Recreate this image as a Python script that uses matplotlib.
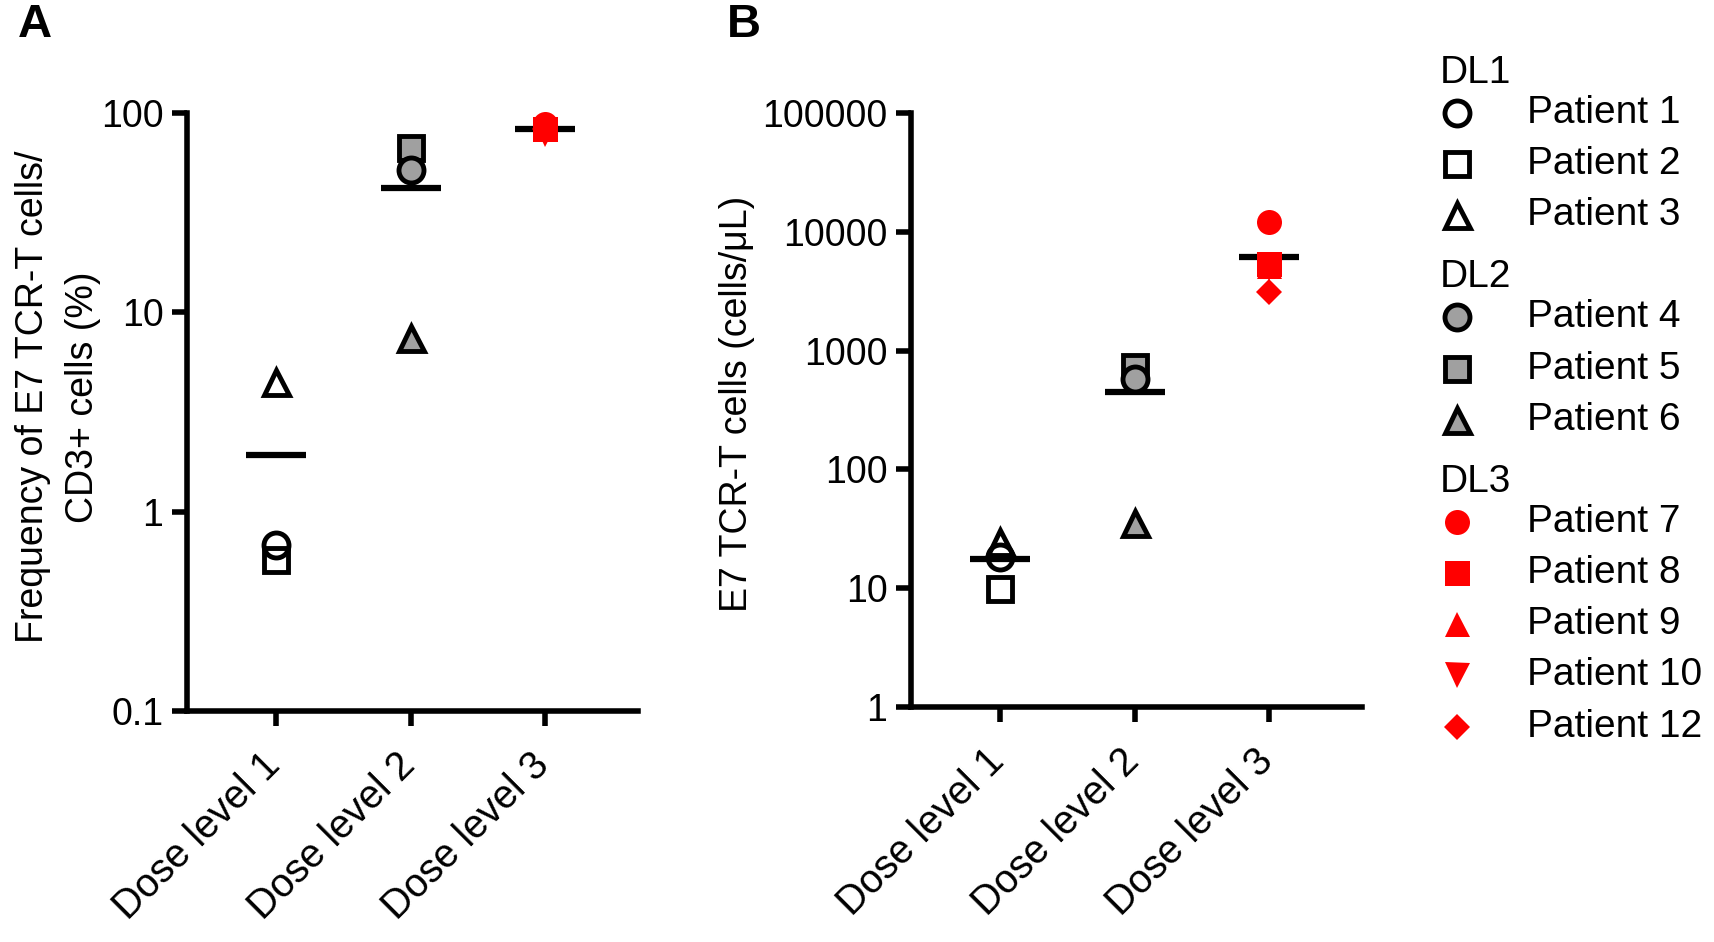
import numpy as np
import matplotlib.pyplot as plt
from matplotlib.transforms import ScaledTranslation

plt.rcParams['font.family'] = ['Liberation Sans', 'DejaVu Sans']

# data
dose_labels = ['Dose level 1', 'Dose level 2', 'Dose level 3']
group_names = ['DL1', 'DL2', 'DL3']
group_patients = [
    ['Patient 1', 'Patient 2', 'Patient 3'],
    ['Patient 4', 'Patient 5', 'Patient 6'],
    ['Patient 7', 'Patient 8', 'Patient 9', 'Patient 10', 'Patient 12'],
]

# A: frequency of E7 TCR-T cells / CD3+ cells (%)
freq_dl1 = [0.68, 0.57, 4.49]
freq_dl2 = [51.9, 66.7, 7.41]
freq_dl3 = [88, 83, 83, 79, 83]

# B: E7 TCR-T cells (cells/uL)
count_dl1 = [18.4, 9.8, 24.6]
count_dl2 = [583, 733, 35.2]
count_dl3 = [12200, 5370, 5200, 5000, 3140]

freq_ticks = [0.1, 1, 10, 100]
freq_ticklabels = ['0.1', '1', '10', '100']
count_ticks = [1, 10, 100, 1000, 10000, 100000]
count_ticklabels = ['1', '10', '100', '1000', '10000', '100000']

# styling
markers = [['o', 's', '^'], ['o', 's', '^'], ['o', 's', '^', 'v', 'D']]
face = ['none', '#a0a0a0', 'red']
edge = ['black', 'black', 'red']
mew = [3.5, 3.5, 0]
msize = {'o': 18, 's': 17, '^': 18, 'v': 18, 'D': 13}
ms_red = {'o': 18, 's': 18, '^': 18, 'v': 18, 'D': 13}
zord = {'s': 3, 'o': 4, '^': 4, 'v': 4, 'D': 5}
FS = 27


def draw_panel(ax, groups, ticks, ticklabels, ylabel, spacing):
    for gi, vals in enumerate(groups):
        x = gi + 1
        ax.hlines(np.mean(vals), x - 0.223, x + 0.223, color='black', lw=4.5, zorder=2)
        for pi, v in enumerate(vals):
            m = markers[gi][pi]
            size = ms_red[m] if gi == 2 else msize[m]
            ax.plot(x, v, marker=m, ls='none', ms=size, mfc=face[gi],
                    mec=edge[gi], mew=mew[gi], zorder=zord[m], clip_on=False)
    ax.set_yscale('log')
    ax.set_ylim(ticks[0], ticks[-1])
    ax.set_yticks(ticks)
    ax.set_yticklabels(ticklabels)
    ax.minorticks_off()
    ax.set_xlim(0.338, 3.69)
    ax.set_xticks([1, 2, 3])
    ax.set_xticklabels(dose_labels, rotation=45, ha='right', rotation_mode='anchor',
                       fontsize=28.5)
    for s in ['top', 'right']:
        ax.spines[s].set_visible(False)
    for s in ['left', 'bottom']:
        ax.spines[s].set_linewidth(4)
    ax.tick_params(axis='both', length=11, width=4, labelsize=FS, pad=6)
    ax.tick_params(axis='x', pad=14, labelsize=28.5)
    shift = ScaledTranslation(-0.15, 0, fig.dpi_scale_trans)
    for lab in ax.get_xticklabels():
        lab.set_transform(lab.get_transform() + shift)
    ax.set_ylabel(ylabel, fontsize=FS, linespacing=spacing)


fig = plt.figure(figsize=(17.14, 9.42), dpi=100)

axA = fig.add_axes([0.1091, 0.2455, 0.2631, 0.6342])
draw_panel(axA, [freq_dl1, freq_dl2, freq_dl3], freq_ticks, freq_ticklabels,
           'Frequency of E7 TCR-T cells/\nCD3+ cells (%)', 1.5)
axA.yaxis.set_label_coords(-0.19, 0.525)

axB = fig.add_axes([0.5315, 0.2495, 0.2631, 0.6303])
draw_panel(axB, [count_dl1, count_dl2, count_dl3], count_ticks, count_ticklabels,
           'E7 TCR-T cells (cells/μL)', 1.1)
axB.yaxis.set_label_coords(-0.346, 0.51)

fig.text(0.0105, 0.973, 'A', fontsize=34, fontweight='bold', ha='left', va='center')
fig.text(0.424, 0.973, 'B', fontsize=34, fontweight='bold', ha='left', va='center')

# legend drawn on an overlay in pixel coordinates
leg = fig.add_axes([0, 0, 1, 1])
leg.set_xlim(0, 1714)
leg.set_ylim(942, 0)
leg.axis('off')
y = 73
for gi, name in enumerate(group_names):
    leg.text(1440, y, name, fontsize=28, ha='left', va='center')
    y += 40
    for pi, pname in enumerate(group_patients[gi]):
        m = markers[gi][pi]
        size = ms_red[m] if gi == 2 else msize[m]
        leg.plot(1457, y, marker=m, ls='none', ms=size, mfc=face[gi],
                 mec=edge[gi], mew=mew[gi])
        leg.text(1527, y, pname, fontsize=28, ha='left', va='center')
        y += 51.2
    y += 62 - 51.2

fig.savefig('out.png', dpi=100)
